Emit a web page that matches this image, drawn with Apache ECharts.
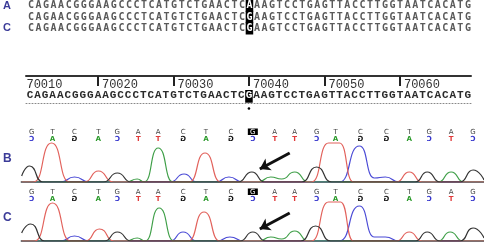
<!DOCTYPE html>
<html>
<head>
<meta charset="utf-8">
<script src="https://cdn.jsdelivr.net/npm/echarts@6/dist/echarts.min.js"></script>
<style>
  html, body { margin: 0; padding: 0; background: #fff; }
  #chart { width: 484px; height: 243px; }
</style>
</head>
<body>
<div id="chart"></div>
<script>
// aligned reads
const rowNames = ['A', 'B', 'C'];
const seqLeft = 'CAGAACGGGAAGCCCTCATGTCTGAACTC';
const seqRight = 'AAGTCCTGAGTTACCTTGGTAATCACATG';
const variantBases = ['A', 'G', 'G'];
const referenceBase = 'G';
const firstPos = 70011;

// ruler
const rulerLabels = [70010, 70020, 70030, 70040, 70050, 70060];
const rulerTicks = [70020, 70030, 70040, 70050, 70060];
const markedPos = 70040;

// chromatogram base calls (x in scan units)
const callPos = [30, 51, 73, 97, 116, 137, 157, 182, 205, 230, 252, 274, 294, 316, 335, 360, 386, 409, 429, 451, 473];
const callBases = 'GTCTGAACTCGAAGTCCTGAG';
const markedCall = 10;

// trace B: [scan, signal]
const traceB_G = [[20,6],[28,16],[41,0],[102,0],[116,9],[130,0],[237,0],[251,10],[264,0],[301,0],[316,15],[331,0],[415,0],[427,10],[440,0],[460,0],[473,12],[484,2]];
const traceB_T = [[20,0],[32,0],[50,39],[68,0],[83,0],[97,11],[112,0],[188,0],[204,29],[220,0],[311,0],[328,39],[339,39],[353,0],[396,0],[409,10],[422,0],[484,0]];
const traceB_A = [[20,0],[125,0],[136,3],[143,0],[157,34],[172,0],[257,0],[270,5],[281,3],[294,10],[308,0],[438,0],[451,10],[464,0],[484,0]];
const traceB_C = [[20,0],[59,0],[73,5],[88,0],[169,0],[183,8],[196,0],[215,0],[228,5],[242,0],[339,0],[359,36],[374,4],[385,5],[399,0],[484,0]];

// trace C
const traceC_G = [[20,8],[29,17],[43,0],[103,0],[116,9],[130,0],[239,0],[252,9],[265,0],[300,0],[315,15],[330,0],[415,0],[427,9],[440,0],[460,0],[473,13],[484,3]];
const traceC_T = [[20,0],[33,0],[51,38],[69,0],[84,0],[98,12],[113,0],[187,0],[203,29],[219,0],[311,0],[328,39],[340,39],[353,0],[396,0],[409,9],[422,0],[484,0]];
const traceC_A = [[20,0],[125,0],[136,3],[144,0],[158,33],[173,0],[258,0],[270,4],[281,2],[294,10],[308,0],[438,0],[450,9],[463,0],[484,0]];
const traceC_C = [[20,0],[59,0],[73,5],[88,0],[169,0],[182,9],[196,0],[216,0],[229,4],[243,0],[339,0],[359,35],[374,4],[385,4],[399,0],[484,0]];

const arrowB = [[289, 29], [259, 13]];
const arrowC = [[289, 28], [259, 12]];

const baseColor = { A: '#3f9f48', C: '#4b4bd6', G: '#333333', T: '#e2625c' };
const compColor = { A: '#2a9a2a', C: '#3535cc', G: '#111111', T: '#e03a3a' };
const complement = { A: 'T', T: 'A', C: 'G', G: 'C' };
const labelBlue = '#3b3b98';

const chart = echarts.init(document.getElementById('chart'));

// x range shared by the sequence rows and ruler (one unit = one base)
const seqMin = 70010.47;
const seqMax = 70069.41;

const topCells = [];
rowNames.forEach((r, ri) => {
  const s = seqLeft + variantBases[ri] + seqRight;
  for (let i = 0; i < s.length; i++) {
    topCells.push({ pos: firstPos + i, row: ri, ch: s[i], hl: i === seqLeft.length });
  }
});

const refSeq = seqLeft + referenceBase + seqRight;
const rulerCells = refSeq.split('').map((ch, i) => ({ pos: firstPos + i, ch: ch }));

function renderTopCell(params, api) {
  const c = topCells[params.dataIndex];
  const pt = api.coord([c.pos, c.row]);
  const w = api.size([1, 0])[0];
  const h = api.size([0, 1])[1];
  const children = [];
  if (c.hl) {
    children.push({ type: 'rect', shape: { x: pt[0] - w / 2, y: pt[1] - h / 2 - 0.5, width: w, height: h + 1 }, style: { fill: '#000' } });
  }
  children.push({
    type: 'text', x: pt[0], y: pt[1],
    style: { text: c.ch, fill: c.hl ? '#fff' : '#5a5a5a', font: 'bold 10px "DejaVu Sans Mono"', align: 'center', verticalAlign: 'middle' }
  });
  return { type: 'group', children: children };
}

function renderRulerCell(params, api) {
  const c = rulerCells[params.dataIndex];
  const pt = api.coord([c.pos, 19]);
  const w = api.size([1, 0])[0];
  const children = [];
  if (c.pos === markedPos) {
    const top = api.coord([c.pos, 14])[1];
    const bot = api.coord([c.pos, 26.7])[1];
    children.push({ type: 'rect', shape: { x: pt[0] - w / 2, y: top, width: w, height: bot - top }, style: { fill: '#000' } });
    const d = api.coord([c.pos, 32.5]);
    children.push({ type: 'circle', shape: { cx: d[0], cy: d[1], r: 1.3 }, style: { fill: '#000' } });
  }
  children.push({
    type: 'text', x: pt[0], y: pt[1],
    style: { text: c.ch, fill: c.pos === markedPos ? '#fff' : '#2a2a2a', font: 'bold 11px "Liberation Mono"', align: 'center', verticalAlign: 'middle' }
  });
  return { type: 'group', children: children };
}

function renderRulerLabel(params, api) {
  const pt = api.coord([api.value(0), 8.5]);
  return {
    type: 'text', x: pt[0] + 4, y: pt[1],
    style: { text: String(rulerLabels[params.dataIndex]), fill: '#333', font: '12px "Liberation Mono"', align: 'left', verticalAlign: 'middle' }
  };
}

function makeCallRenderer(yTop) {
  return function (params, api) {
    const i = params.dataIndex;
    const b = callBases[i];
    const pt = api.coord([callPos[i], yTop]);
    const children = [];
    if (i === markedCall) {
      children.push({ type: 'rect', shape: { x: pt[0] - 5, y: pt[1] - 6.5, width: 10, height: 6.5 }, style: { fill: '#000' } });
    }
    children.push({
      type: 'text', x: pt[0], y: pt[1] - 3,
      style: { text: b, fill: i === markedCall ? '#fff' : '#444', font: '7px "DejaVu Sans"', align: 'center', verticalAlign: 'middle' }
    });
    const cb = complement[b];
    children.push({
      type: 'text', x: pt[0], y: pt[1] + 4, scaleX: -1,
      style: { text: cb, fill: compColor[cb], font: 'bold 7px "DejaVu Sans"', align: 'center', verticalAlign: 'middle' }
    });
    return { type: 'group', children: children };
  };
}

function traceSeries(data, base, xi, yi) {
  return {
    type: 'line', data: data, xAxisIndex: xi, yAxisIndex: yi,
    smooth: 0.6, smoothMonotone: 'x', showSymbol: false, silent: true,
    lineStyle: { color: baseColor[base], width: 1.2 }, z: 2
  };
}

function arrowLine(pts) {
  return {
    silent: true, symbol: ['none', 'arrow'], symbolSize: 10,
    label: { show: false },
    lineStyle: { color: '#111', width: 3, type: 'solid' },
    data: [[{ coord: pts[0] }, { coord: pts[1] }]]
  };
}

const option = {
  animation: false,
  backgroundColor: '#fff',
  grid: [
    { left: 26, right: 13, top: 0, height: 34 },
    { left: 26, right: 13, top: 76, height: 27 },
    { left: 20, right: 0, top: 135, height: 47 },
    { left: 20, right: 0, top: 195, height: 46 }
  ],
  xAxis: [
    { gridIndex: 0, type: 'value', min: seqMin, max: seqMax, show: false },
    {
      gridIndex: 1, type: 'value', min: seqMin, max: seqMax, position: 'top',
      axisLine: { lineStyle: { color: '#333', width: 2 } },
      axisTick: { customValues: rulerTicks, inside: true, length: 10, lineStyle: { color: '#222', width: 2 } },
      axisLabel: { show: false }, splitLine: { show: false }
    },
    {
      gridIndex: 1, type: 'value', min: seqMin, max: seqMax, position: 'bottom',
      axisLine: { lineStyle: { color: '#888', width: 1, type: [1, 2] } },
      axisTick: { show: false }, axisLabel: { show: false }, splitLine: { show: false }
    },
    {
      gridIndex: 2, type: 'value', min: 20, max: 484, position: 'top',
      axisLine: { lineStyle: { color: '#9a9a9a', width: 2 } },
      axisTick: { show: false }, axisLabel: { show: false }, splitLine: { show: false }
    },
    {
      gridIndex: 2, type: 'value', min: 20, max: 484, position: 'bottom',
      axisLine: { lineStyle: { color: '#707070', width: 2 } },
      axisTick: { show: false }, axisLabel: { show: false }, splitLine: { show: false }
    },
    {
      gridIndex: 3, type: 'value', min: 20, max: 484, position: 'top',
      axisLine: { lineStyle: { color: '#9a9a9a', width: 2 } },
      axisTick: { show: false }, axisLabel: { show: false }, splitLine: { show: false }
    },
    {
      gridIndex: 3, type: 'value', min: 20, max: 484, position: 'bottom',
      axisLine: { lineStyle: { color: '#707070', width: 2 } },
      axisTick: { show: false }, axisLabel: { show: false }, splitLine: { show: false }
    }
  ],
  yAxis: [
    {
      gridIndex: 0, type: 'category', data: rowNames, inverse: true,
      axisLine: { show: false }, axisTick: { show: false }, splitLine: { show: false },
      axisLabel: { align: 'left', margin: 24, color: labelBlue, fontWeight: 'bold', fontSize: 11, fontFamily: 'Liberation Sans' }
    },
    { gridIndex: 1, type: 'value', min: 0, max: 27, inverse: true, show: false },
    {
      gridIndex: 2, type: 'value', min: 0, max: 47, name: 'B', nameLocation: 'middle', nameRotate: 0, nameGap: 10,
      nameTextStyle: { color: labelBlue, fontWeight: 'bold', fontSize: 12, fontFamily: 'Liberation Sans' },
      axisLine: { show: false }, axisTick: { show: false }, axisLabel: { show: false }, splitLine: { show: false }
    },
    {
      gridIndex: 3, type: 'value', min: 0, max: 46, name: 'C', nameLocation: 'middle', nameRotate: 0, nameGap: 10,
      nameTextStyle: { color: labelBlue, fontWeight: 'bold', fontSize: 12, fontFamily: 'Liberation Sans' },
      axisLine: { show: false }, axisTick: { show: false }, axisLabel: { show: false }, splitLine: { show: false }
    }
  ],
  series: [
    { type: 'custom', xAxisIndex: 0, yAxisIndex: 0, data: topCells.map(c => [c.pos, c.row]), renderItem: renderTopCell, silent: true },
    { type: 'custom', xAxisIndex: 1, yAxisIndex: 1, data: rulerCells.map(c => [c.pos, 19]), renderItem: renderRulerCell, silent: true },
    { type: 'custom', xAxisIndex: 1, yAxisIndex: 1, data: rulerLabels.map(p => [p, 8.5]), renderItem: renderRulerLabel, silent: true, clip: false },

    traceSeries(traceB_C, 'C', 3, 2),
    traceSeries(traceB_A, 'A', 3, 2),
    traceSeries(traceB_T, 'T', 3, 2),
    Object.assign(traceSeries(traceB_G, 'G', 3, 2), { markLine: arrowLine(arrowB) }),
    { type: 'custom', xAxisIndex: 3, yAxisIndex: 2, data: callPos.map(p => [p, 47]), renderItem: makeCallRenderer(47), silent: true, z: 5 },

    traceSeries(traceC_C, 'C', 5, 3),
    traceSeries(traceC_A, 'A', 5, 3),
    traceSeries(traceC_T, 'T', 5, 3),
    Object.assign(traceSeries(traceC_G, 'G', 5, 3), { markLine: arrowLine(arrowC) }),
    { type: 'custom', xAxisIndex: 5, yAxisIndex: 3, data: callPos.map(p => [p, 46]), renderItem: makeCallRenderer(46), silent: true, z: 5 }
  ]
};

chart.setOption(option);
window.addEventListener('resize', () => chart.resize());
</script>
</body>
</html>
